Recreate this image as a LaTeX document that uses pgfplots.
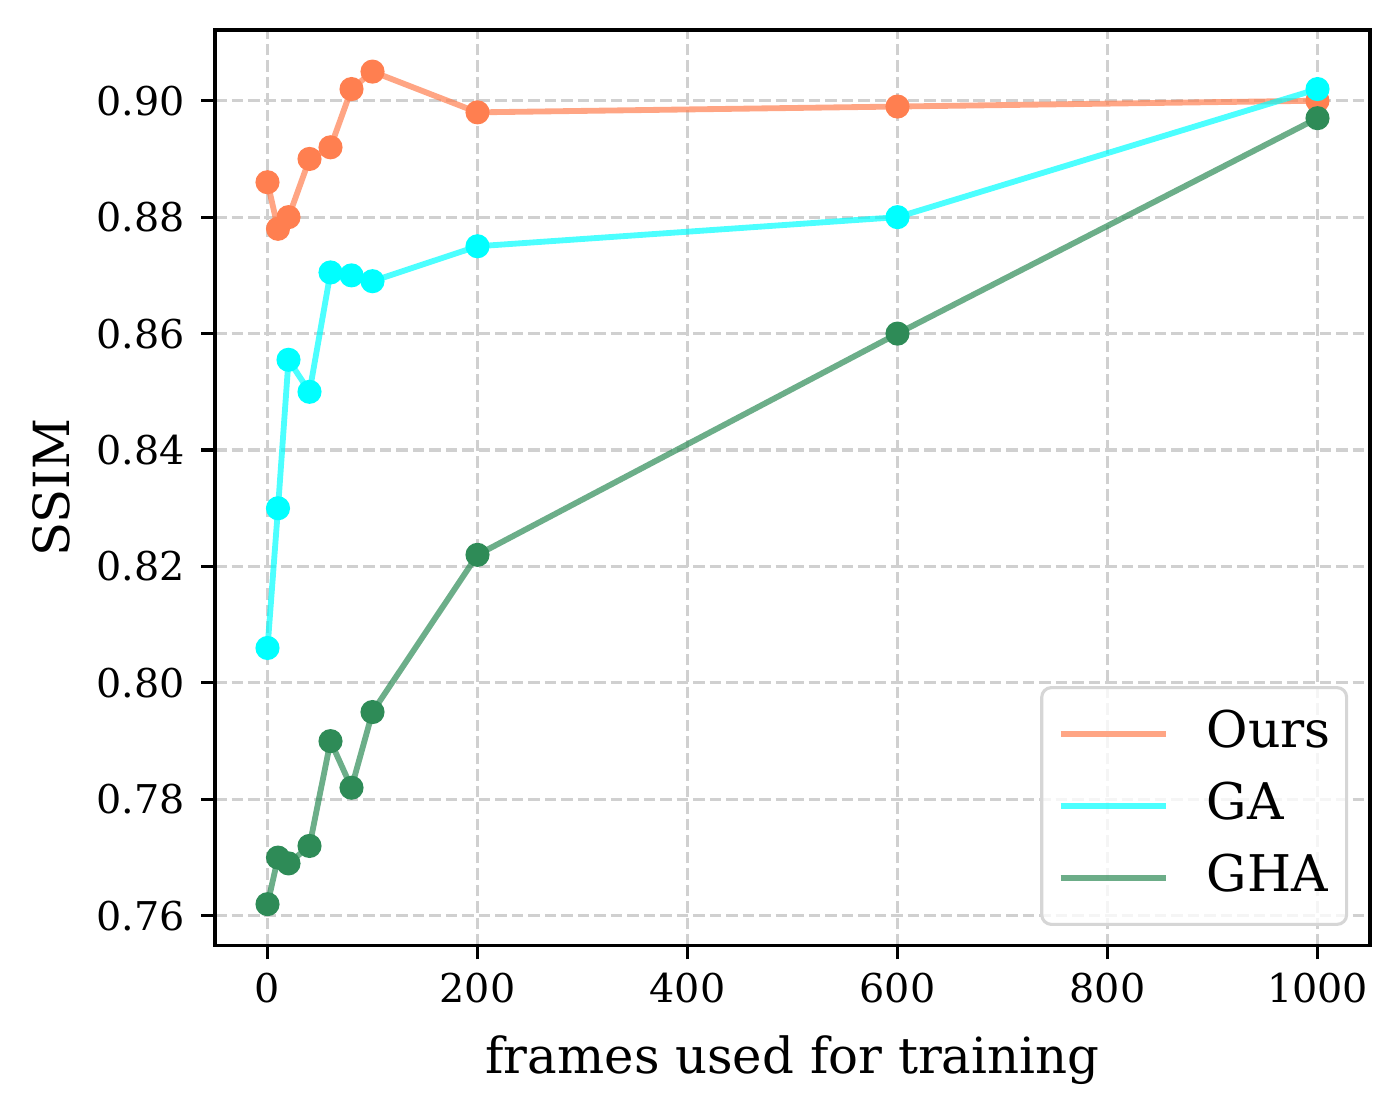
\documentclass[border=0pt]{standalone}
\usepackage{pgfplots}
\pgfplotsset{compat=1.18}
\usepackage{fontspec}
\setmainfont{DejaVu Serif}
\definecolor{coral}{HTML}{FF7F50}
\definecolor{gacyan}{HTML}{00FFFF}
\definecolor{seagreen}{HTML}{2E8B57}
\definecolor{gridc}{HTML}{D0D0D0}
\definecolor{legc}{HTML}{D6D6D6}

\pgfplotstableread{
x y
0 0.886
10 0.878
20 0.880
40 0.890
60 0.892
80 0.902
100 0.905
200 0.898
600 0.899
1000 0.900
}\ours
\pgfplotstableread{
x y
0 0.806
10 0.830
20 0.8555
40 0.850
60 0.8705
80 0.870
100 0.869
200 0.875
600 0.880
1000 0.902
}\ga
\pgfplotstableread{
x y
0 0.762
10 0.770
20 0.769
40 0.772
60 0.790
80 0.782
100 0.795
200 0.822
600 0.860
1000 0.897
}\gha

\begin{document}
\begin{tikzpicture}
\useasboundingbox (-55.29pt,-42.68pt) rectangle (304.71pt,243.21pt);
\begin{axis}[
  at={(0,0)}, anchor=south west,
  scale only axis, width=297pt, height=235.5pt,
  xmin=-50, xmax=1050, ymin=0.75485, ymax=0.91215,
  xtick={0,200,400,600,800,1000},
  ytick={0.76,0.78,0.80,0.82,0.84,0.86,0.88,0.90},
  yticklabels={0.76,0.78,0.80,0.82,0.84,0.86,0.88,0.90},
  x tick label style={/pgf/number format/1000 sep={}},
  y tick label style={xshift=-0.8pt},
  /pgf/number format/assume math mode=true,
  tick label style={font=\fontsize{10.2}{12}\selectfont},
  tick align=outside, tick pos=left,
  major tick length=3.5pt,
  every tick/.style={black, line width=0.8pt},
  axis line style={line width=0.8pt},
  grid=major,
  major grid style={gridc, line width=0.8pt, dash pattern=on 2.96pt off 1.28pt},
  xlabel={frames used for training},
  ylabel={SSIM},
  label style={font=\fontsize{12.8}{15}\selectfont},
  xlabel style={at={(axis description cs:0.5,-0.1389)}, anchor=base},
  ylabel style={at={(axis description cs:-0.1256,0.5)}, anchor=base, rotate=0},
  legend style={at={(1,0)}, anchor=south east, xshift=-5.6pt, yshift=5.1pt,
    draw=legc, line width=0.8pt, rounded corners=2.5pt, fill=white, fill opacity=0.8, text opacity=1,
    font=\fontsize{13}{15}\selectfont, inner xsep=4.1pt, inner ysep=5.8pt,
    row sep=6.5pt, column sep=9.8pt,
    nodes={inner sep=0pt, text height=9.5pt, text depth=2.6pt}},
  legend cell align=left,
  legend image code/.code={\draw[#1, line width=1.5pt] (0pt,0pt) -- (27pt,0pt);},
]
\addplot[only marks, mark=*, mark size=2.9pt, coral, forget plot] table[x=x,y=y] {\ours};
\addplot[coral, draw opacity=0.7, line width=1.5pt, mark=none] table[x=x,y=y] {\ours};
\addlegendentry{Ours}
\addplot[only marks, mark=*, mark size=2.9pt, gacyan, forget plot] table[x=x,y=y] {\ga};
\addplot[gacyan, draw opacity=0.7, line width=1.5pt, mark=none] table[x=x,y=y] {\ga};
\addlegendentry{GA}
\addplot[only marks, mark=*, mark size=2.9pt, seagreen, forget plot] table[x=x,y=y] {\gha};
\addplot[seagreen, draw opacity=0.7, line width=1.5pt, mark=none] table[x=x,y=y] {\gha};
\addlegendentry{GHA}
\end{axis}
\end{tikzpicture}
\end{document}
